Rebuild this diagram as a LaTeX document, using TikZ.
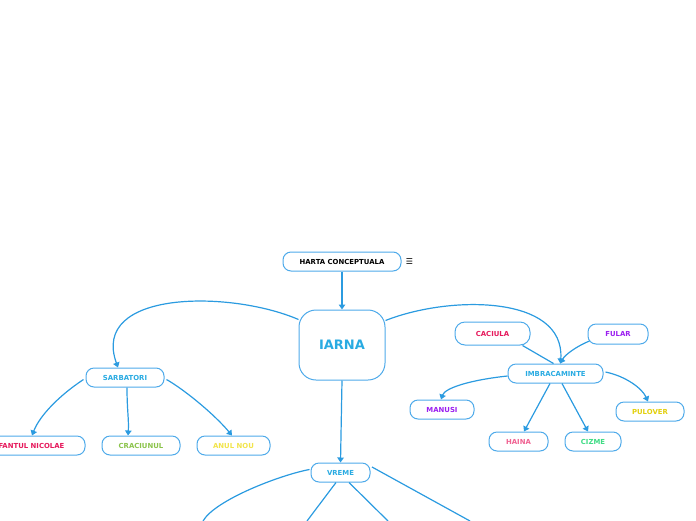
\documentclass[tikz,border=0pt]{standalone}
\usepackage{fontspec}
\setmainfont{DejaVu Sans}
\newfontfamily\symfont{DejaVu Sans}
\usetikzlibrary{arrows.meta}
\definecolor{linec}{HTML}{2B9BE0}
\definecolor{boxc}{HTML}{4EAAEA}
\definecolor{shadowc}{HTML}{8CCBF2}
\definecolor{mainblue}{HTML}{29ABE2}
\definecolor{crimson}{HTML}{E6195C}
\definecolor{leafgreen}{HTML}{8BC34A}
\definecolor{yel}{HTML}{F2E44A}
\definecolor{yel2}{HTML}{E3D00E}
\definecolor{purp}{HTML}{9B1FF0}
\definecolor{pinkc}{HTML}{F06292}
\definecolor{mint}{HTML}{3DDC84}
\begin{document}
\begin{tikzpicture}[x=1pt,y=-1pt,
  pill/.style={draw=boxc, line width=1pt, fill=white, rounded corners=8pt,
    minimum height=19pt, inner sep=0pt, font=\fontsize{6.9}{8}\selectfont\bfseries},
  bigbox/.style={draw=boxc, line width=1pt, fill=white, rounded corners=17pt,
    minimum width=86pt, minimum height=70pt, inner sep=0pt,
    font=\fontsize{13}{15}\selectfont\bfseries, text=mainblue},
  conn/.style={draw=linec, line width=1.2pt, -{Triangle[width=6.5pt,length=5pt]}},
  plain/.style={draw=linec, line width=1.2pt}]
\useasboundingbox (0,0) rectangle (696,520);
\clip (0,0) rectangle (696,520);
% nodes
\node[pill, minimum width=118pt, text=black] (harta) at (342,261.5) {HARTA CONCEPTUALA};
\node[font=\symfont\fontsize{8}{9}\selectfont] (menu) at (409.5,261.5) {☰};
\node[bigbox] (iarna) at (342,345) {IARNA};
\node[pill, minimum width=78pt, text=mainblue] (sarb) at (125,377.5) {SARBATORI};
\node[pill, minimum width=112pt, text=crimson] (nic) at (29,445.5) {SFANTUL NICOLAE};
\node[pill, minimum width=78pt, text=leafgreen] (crac) at (141,445.5) {CRACIUNUL};
\node[pill, minimum width=73pt, text=yel] (anul) at (233.5,445.5) {ANUL NOU};
\node[pill, minimum width=59pt, text=mainblue] (vreme) at (340.5,472.5) {VREME};
\node[pill, minimum width=75pt, minimum height=23pt, rounded corners=10pt, text=crimson] (caci) at (492.5,333.5) {CACIULA};
\node[pill, minimum width=60pt, minimum height=20pt, text=purp] (fular) at (618,334) {FULAR};
\node[pill, minimum width=95pt, text=mainblue] (imbr) at (555.5,373.5) {IMBRACAMINTE};
\node[pill, minimum width=64pt, text=purp] (manusi) at (442,409.5) {MANUSI};
\node[pill, minimum width=68pt, text=yel2] (pulover) at (650,411.5) {PULOVER};
\node[pill, minimum width=59pt, text=pinkc] (haina) at (518.5,441.5) {HAINA};
\node[pill, minimum width=56pt, text=mint] (cizme) at (593,441.5) {CIZME};
% free ends
\coordinate (v1) at (203,521);
\coordinate (v2) at (307,521);
\coordinate (v3) at (388,521);
\coordinate (v4) at (470,521);
% connectors
\draw[conn] (harta.south) -- (iarna.north);
\draw[conn] ([yshift=-10pt]iarna.north west) .. controls (230,290) and (90,290) .. ([xshift=-7pt]sarb.north);
\draw[conn] ([yshift=-11pt]iarna.north east) .. controls (450,295) and (565,295) .. ([xshift=5pt]imbr.north);
\draw[conn] (iarna.south) -- (vreme.north);
\draw[conn] ([shift={(-2pt,-2pt)}]sarb.west) .. controls (60,395) and (40,415) .. ([xshift=3pt]nic.north);
\draw[conn] ([xshift=2pt]sarb.south) .. controls (127,410) and (129,420) .. ([xshift=-13pt]crac.north);
\draw[conn] ([shift={(2pt,-2pt)}]sarb.east) .. controls (185,390) and (215,415) .. ([xshift=-1.5pt]anul.north);
\draw[plain] ([xshift=-8pt]caci.south east) -- ([xshift=-2pt]imbr.north);
\draw[conn] ([shift={(2pt,-7pt)}]fular.west) .. controls (575,347) and (565,355) .. ([xshift=4.5pt]imbr.north);
\draw[conn] ([yshift=-2.5pt]imbr.west) .. controls (470,380) and (445,388) .. ([xshift=-1pt]manusi.north);
\draw[conn] ([xshift=-5.5pt]imbr.south) -- ([xshift=5.5pt]haina.north);
\draw[conn] ([xshift=6.5pt]imbr.south) -- ([xshift=-5pt]cizme.north);
\draw[conn] ([shift={(2pt,1.5pt)}]imbr.east) .. controls (625,376) and (642,388) .. ([xshift=-2pt]pulover.north);
\draw[plain] ([shift={(-1pt,3pt)}]vreme.west) .. controls (280,475) and (215,500) .. (v1);
\draw[plain] ([xshift=-4.5pt]vreme.south) -- (v2);
\draw[plain] ([xshift=8.5pt]vreme.south) -- (v3);
\draw[plain] ([shift={(1.5pt,5.5pt)}]vreme.east) -- (v4);
\end{tikzpicture}
\end{document}
